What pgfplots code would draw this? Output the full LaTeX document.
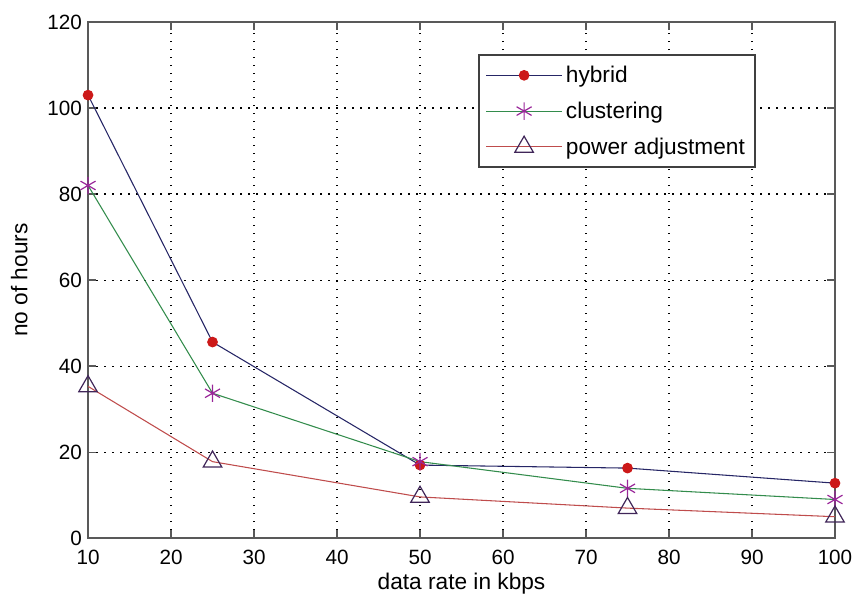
\documentclass[border=0pt]{standalone}
\usepackage{fontspec}
\setmainfont{Liberation Sans}
\usepackage{pgfplots}
\pgfplotsset{compat=1.18}
\definecolor{navyl}{rgb}{0.15,0.15,0.40}
\definecolor{greenl}{rgb}{0.20,0.55,0.30}
\definecolor{redl}{rgb}{0.75,0.30,0.30}
\definecolor{redm}{rgb}{0.80,0.10,0.10}
\definecolor{purm}{rgb}{0.60,0.15,0.60}
\definecolor{trim}{rgb}{0.25,0.15,0.35}
\begin{document}
\begin{tikzpicture}
\begin{axis}[
  scale only axis,
  width=560pt, height=387pt,
  xmin=10, xmax=100, ymin=0, ymax=120,
  xtick={10,20,...,100}, ytick={0,20,...,120},
  tick align=inside,
  major tick length=6pt,
  grid=major,
  grid style={black, line width=0.9pt, dash pattern=on 1.1pt off 4.9pt},
  axis line style={black!65, line width=1.3pt},
  tick style={black!65, line width=1pt},
  /pgf/number format/assume math mode=true,
  tick label style={font=\fontsize{15.5}{18}\selectfont},
  label style={font=\fontsize{17}{20}\selectfont},
  xticklabel style={yshift=-5pt},
  yticklabel style={xshift=-1pt},
  xlabel={data rate in kbps},
  ylabel={no of hours},
  xlabel style={yshift=0pt},
  ylabel style={yshift=8pt},
  legend cell align=left,
  legend style={at={(0.522,0.932)}, anchor=north west, yshift=2pt, draw=black!75, line width=1.5pt,
    font=\fontsize{17}{20}\selectfont, inner xsep=5pt, inner ysep=6pt, row sep=9pt,
    nodes={line width=0.7pt, inner xsep=2.5pt}},
  legend image code/.code={
    \draw[mark repeat=2,mark phase=2] plot coordinates {(0cm,0cm) (1cm,0cm) (2cm,0cm)};},
]
\addplot[navyl, line width=0.8pt, mark=*, mark size=3.6pt, mark options={draw=redm, fill=redm}]
  coordinates {(10,103) (25,45.6) (50,17) (75,16.3) (100,12.8)};
\addlegendentry{hybrid}
\addplot[greenl, line width=0.8pt, mark=asterisk, mark size=6.5pt, mark options={draw=purm, line width=0.9pt}]
  coordinates {(10,82) (25,33.7) (50,17.8) (75,11.6) (100,9)};
\addlegendentry{clustering}
\addplot[redl, line width=0.8pt, mark=triangle, mark size=8pt, mark options={draw=trim, fill=white, line width=0.9pt}]
  coordinates {(10,35.3) (25,17.8) (50,9.6) (75,7) (100,5)};
\addlegendentry{power adjustment}
\end{axis}
\pgfresetboundingbox
\path ([shift={(-66pt,-48.75pt)}]current axis.south west) rectangle ([shift={(13.5pt,16.5pt)}]current axis.north east);
\end{tikzpicture}
\end{document}
